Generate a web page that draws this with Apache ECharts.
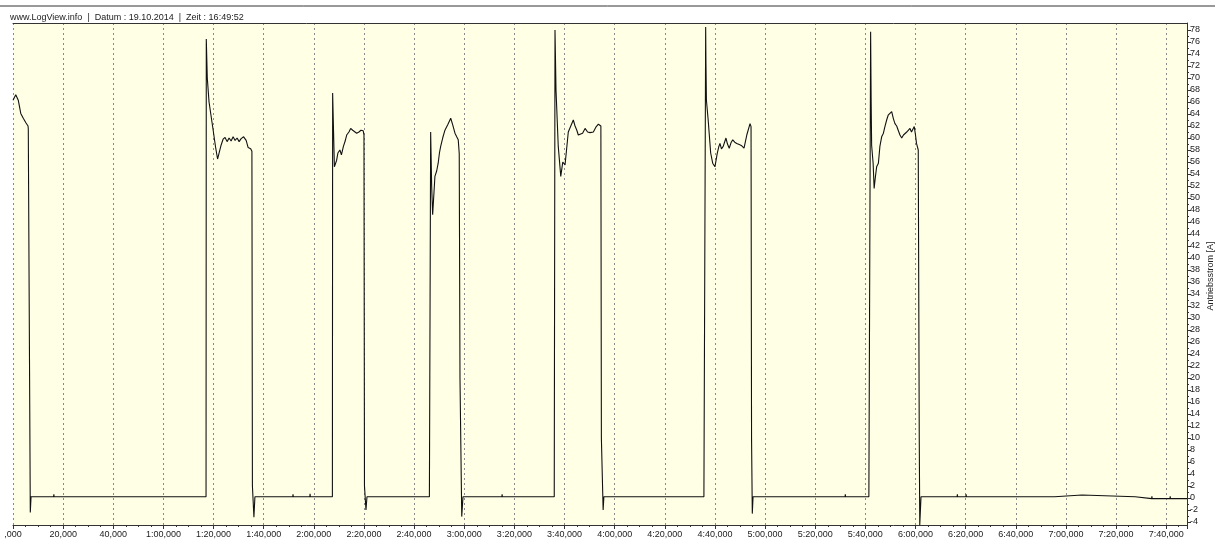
<!DOCTYPE html>
<html><head><meta charset="utf-8">
<script src="https://cdn.jsdelivr.net/npm/echarts@6/dist/echarts.min.js"></script>
<style>html,body{margin:0;padding:0;background:#fff}#c{width:1215px;height:541px}</style>
</head><body><div id="c"></div>
<script>
// ---- texts ----
const headerText = 'www.LogView.info  |  Datum : 19.10.2014  |  Zeit : 16:49:52';
const axisName = 'Antriebsstrom [A]';

// ---- axis settings ----
const xMin = 0, xMax = 468.3, xStep = 20;
const yMin = -4.5, yMax = 79.17;
const yTickMin = -4, yTickMax = 78, yTickStep = 2;

// ---- data: [time s, current A] ----
const cycle1 = [[0,66.3],[1.1,67.2],[2.1,66.3],[3.1,64.1],[4.1,63.3],[5.2,62.5],[6.0,62.0],[6.1,61.5],[6.9,-2.4],[7.2,0.2]];
const idle1 = [[7.4,0.2],[16.2,0.2],[16.3,0.6],[16.4,0.2],[77.0,0.2]];
const cycle2 = [[77.1,76.5],[77.5,70],[78.2,66],[79.6,62],[80.8,58.5],[81.6,56.5],[82.2,57.5],[83.0,58.8],[83.8,59.8],[84.6,60.1],[85.4,59.4],[86.2,60.0],[87.0,59.5],[87.8,60.2],[88.6,59.6],[89.4,60.0],[90.2,59.4],[91.0,59.9],[92.0,60.2],[93.0,59.6],[93.8,58.4],[94.8,58.2],[95.3,57.8],[95.5,2],[96.1,-3.2],[96.5,0.2]];
const idle2 = [[96.9,0.2],[111.6,0.2],[111.7,0.6],[111.8,0.2],[118.4,0.2],[118.5,0.7],[118.6,0.2],[127.4,0.2]];
const cycle3 = [[127.5,67.5],[128.2,55.2],[129.1,56.3],[129.6,57.5],[130.4,58],[131.0,57.2],[131.8,58.6],[132.5,59.5],[133.1,60.5],[134.0,61.0],[134.7,61.6],[135.5,61.3],[136.2,61.5],[137.1,60.8],[138.0,61.0],[138.8,61.3],[139.7,61.2],[140.0,60.5],[140.2,2],[140.8,-2.0],[141.2,0.2]];
const idle3 = [[141.4,0.2],[166.1,0.2]];
const cycle4 = [[166.6,61],[167.0,52],[167.4,47.2],[168.3,53.6],[169.0,54.5],[169.6,55.8],[170.1,57.5],[170.6,58.6],[171.4,60.0],[172.3,61.3],[173.5,62.3],[174.6,63.3],[175.4,62.2],[176.3,60.8],[177.0,60.2],[177.6,59.7],[178.0,57.4],[178.3,20],[179.0,-3.1],[179.5,0.2]];
const idle4 = [[179.7,0.2],[195.0,0.2],[195.1,0.6],[195.2,0.2],[215.9,0.2]];
const cycle5 = [[216.2,78.0],[216.6,68],[217.5,58.6],[218.5,53.6],[219.3,56],[220.2,55.5],[220.8,58.0],[221.5,61],[222.5,62],[223.5,63],[224.2,62],[224.9,61.3],[225.5,60.5],[226.2,60.2],[227.2,60.8],[228.2,61.6],[229.2,61.0],[230.2,60.9],[230.9,61.2],[231.5,61.0],[232.5,61.8],[233.5,62.3],[234.2,62.4],[234.5,62.0],[234.7,10],[235.4,-2.0],[235.7,0.2]];
const idle5 = [[235.9,0.2],[275.6,0.2]];
const cycle6 = [[276.3,78.5],[276.4,73],[276.6,66.3],[277.3,63],[278.3,57.5],[279.1,55.8],[280.0,55.2],[280.9,57.4],[281.5,58.5],[282.0,59.1],[282.6,58.2],[283.3,58.6],[284.0,59.5],[284.4,60.0],[285.0,59.0],[285.7,58.3],[286.4,59.2],[287.1,59.7],[287.9,59.3],[288.7,59.1],[289.7,58.9],[290.7,58.7],[291.6,58.3],[292.7,60.5],[294.0,62.4],[294.4,61.9],[294.6,10],[294.9,-2.6],[295.2,0.2]];
const idle6 = [[295.4,0.2],[331.9,0.2],[332.0,0.6],[332.1,0.2],[341.4,0.2]];
const cycle7 = [[342.1,77.7],[342.3,66.6],[342.5,58.8],[343.1,55.8],[343.5,51.6],[344.0,53.5],[344.5,55.2],[345.2,55.8],[345.8,58.6],[346.5,60.2],[347.2,60.8],[347.8,61.9],[348.5,63.0],[349.1,63.8],[349.8,64.0],[350.5,64.4],[351.2,63.2],[351.8,62.4],[352.5,62.0],[353.1,61.3],[353.8,60.5],[354.5,60.0],[355.2,60.5],[355.8,60.8],[356.5,61.0],[357.1,61.3],[357.8,61.6],[358.4,61.0],[359.0,61.5],[359.5,61.9],[360.0,60.5],[360.4,59.1],[361.1,58.0],[361.5,10],[361.7,-4.5],[362.2,0.2]];
const idle7 = [[362.4,0.2],[376.6,0.2],[376.7,0.6],[376.8,0.2],[380.1,0.2],[380.2,0.6],[380.3,0.2],[415.5,0.2],[415.6,0.5],[426.4,0.5],[426.5,0.2],[447.6,0.2],[447.7,-0.1],[454.2,-0.1],[454.3,0.3],[454.4,-0.1],[461.5,-0.1],[461.6,0.3],[461.7,-0.1],[468.3,-0.1]];

const seriesData = [].concat(cycle1, idle1, cycle2, idle2, cycle3, idle3, cycle4, idle4, cycle5, idle5, cycle6, idle6, cycle7, idle7);

function fmtTime(v) {
  if (v === 0) return ',000';
  const m = Math.floor(v / 60), s = Math.round(v - m * 60);
  return (m > 0 ? m + ':' + String(s).padStart(2, '0') : String(s)) + ',000';
}

const font = 'Liberation Sans';
const chart = echarts.init(document.getElementById('c'), null, {renderer: 'canvas'});
chart.setOption({
  animation: false,
  backgroundColor: '#ffffff',
  title: {
    text: headerText, left: 5, top: 8,
    textStyle: {fontSize: 9, fontWeight: 'normal', color: '#222', fontFamily: font}
  },
  graphic: [{
    type: 'line', shape: {x1: 0, y1: 6, x2: 1215, y2: 6},
    style: {stroke: '#333', lineWidth: 1}
  }],
  grid: [
    {left: 13, right: 28, top: 23, bottom: 16, show: true, backgroundColor: '#FFFFE6', borderWidth: 0, containLabel: false, outerBoundsMode: 'none'},
    {left: 13, right: 28, top: 30, bottom: 19, show: false, containLabel: false, outerBoundsMode: 'none'}
  ],
  xAxis: [
    {
      type: 'value', gridIndex: 0, min: xMin, max: xMax, interval: xStep, position: 'bottom',
      axisLine: {show: true, onZero: false, lineStyle: {color: '#333', width: 1}},
      axisTick: {show: true, length: 4, lineStyle: {color: '#333'}},
      minorTick: {show: true, splitNumber: 4, length: 2, lineStyle: {color: '#333'}},
      axisLabel: {fontSize: 9, color: '#222', fontFamily: font, margin: 5, formatter: fmtTime, showMaxLabel: false},
      splitLine: {show: true, lineStyle: {color: '#8a8a8a', type: [2, 3], width: 1}}
    },
    {
      type: 'value', gridIndex: 0, min: xMin, max: xMax, position: 'top',
      axisLine: {show: true, onZero: false, lineStyle: {color: '#333', width: 1}},
      axisTick: {show: false}, axisLabel: {show: false}, splitLine: {show: false}
    },
    {type: 'value', gridIndex: 1, min: xMin, max: xMax, show: false, axisLine: {onZero: false}}
  ],
  yAxis: [
    {
      type: 'value', gridIndex: 0, min: yMin, max: yMax, position: 'right',
      axisLine: {show: true, onZero: false, lineStyle: {color: '#333', width: 1}},
      axisTick: {show: false}, axisLabel: {show: false}, splitLine: {show: false}
    },
    {
      type: 'value', gridIndex: 1, min: yTickMin, max: yTickMax, interval: yTickStep, position: 'right',
      name: axisName, nameLocation: 'middle', nameRotate: 90, nameGap: 19, nameMoveOverlap: false,
      nameTextStyle: {fontSize: 9, color: '#222', fontFamily: font},
      axisLine: {show: false, onZero: false},
      axisTick: {show: true, inside: false, length: 4, lineStyle: {color: '#333'}},
      minorTick: {show: true, splitNumber: 2, length: 2, lineStyle: {color: '#333'}},
      axisLabel: {inside: false, fontSize: 9, color: '#222', fontFamily: font, margin: 3},
      splitLine: {show: false}
    }
  ],
  series: [{
    type: 'line', xAxisIndex: 0, yAxisIndex: 0, data: seriesData,
    showSymbol: false, symbol: 'none',
    lineStyle: {color: '#111', width: 1.1}
  }]
});
</script>
</body></html>
